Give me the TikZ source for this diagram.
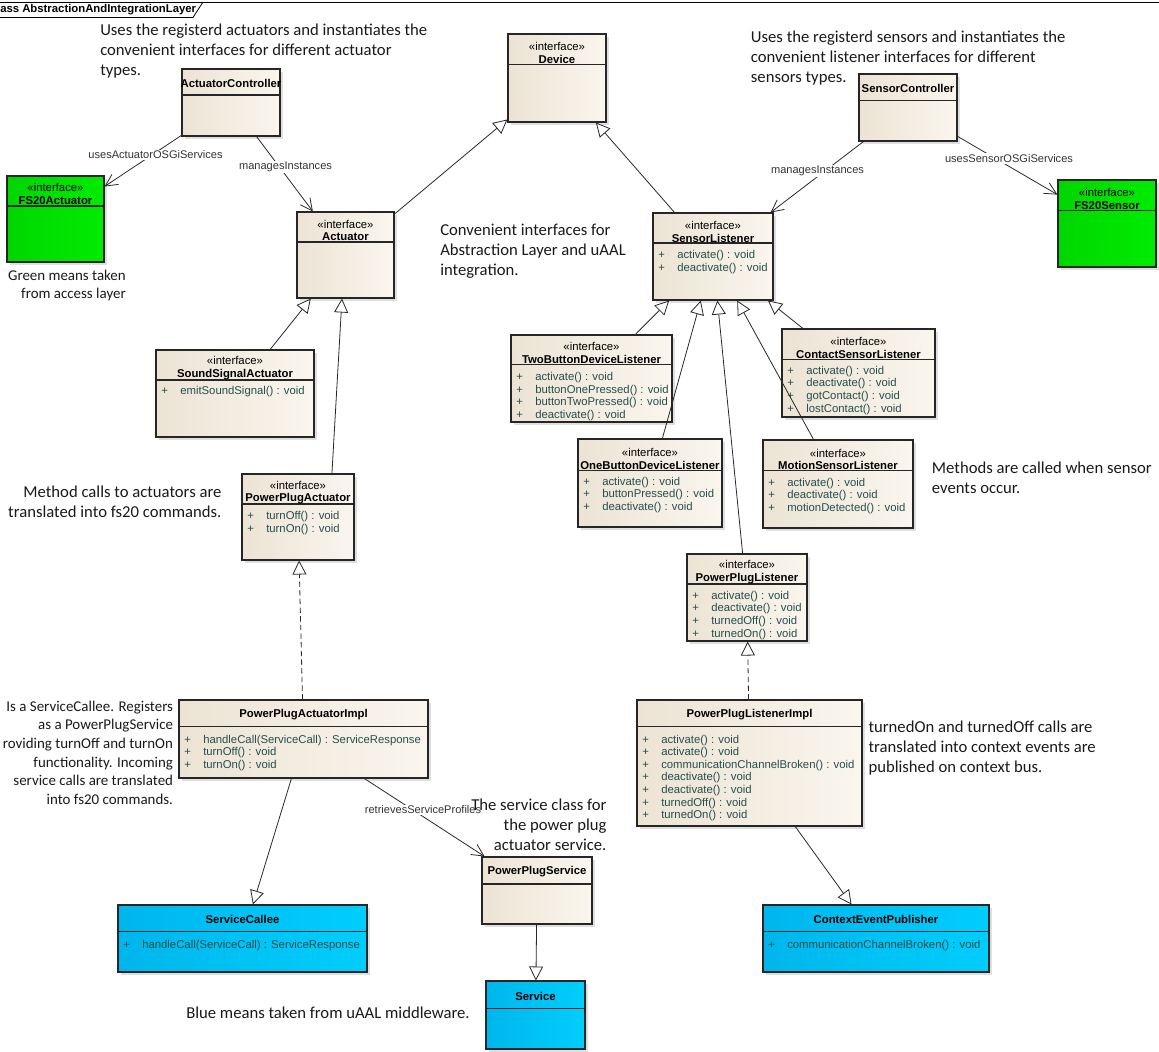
\documentclass[tikz,border=0pt]{standalone}
\usepackage{fontspec}
\setmainfont{Carlito}
\newfontfamily\umlsans{Liberation Sans}
\usetikzlibrary{arrows.meta,calc,fit,shadows}

\definecolor{beigeL}{RGB}{236,227,212}
\definecolor{beigeR}{RGB}{250,246,238}
\definecolor{greenL}{RGB}{0,214,0}
\definecolor{greenR}{RGB}{0,236,0}
\definecolor{blueL}{RGB}{0,182,236}
\definecolor{blueR}{RGB}{0,206,252}
\definecolor{opcol}{RGB}{38,78,78}
\definecolor{edgecol}{RGB}{40,40,40}

\newcommand{\umlfont}{\umlsans\fontsize{8.5}{9.45}\selectfont}
\newcommand{\notefont}{\fontsize{12.5}{15}\selectfont}
\newcommand{\mplus}{\makebox[14.25pt][l]{+}}

\tikzset{
  cls/.style={draw=black!85, line width=0.8pt, inner sep=0pt, left color=beigeL, right color=beigeR,
    drop shadow={shadow xshift=2pt, shadow yshift=-2pt, opacity=0.25}},
  accls/.style={cls, left color=greenL, right color=greenR},
  uaalcls/.style={cls, left color=blueL, right color=blueR},
  hline/.style={draw=black!85, line width=0.8pt},
  hd/.style={font=\umlfont, align=center, inner sep=0pt},
  ops/.style={font=\umlfont, text=opcol, align=left, anchor=west, inner sep=0pt},
  lbl/.style={font=\umlsans\fontsize{8.3}{9}\selectfont, text=black!80, fill=white, inner sep=1pt},
  note/.style={font=\notefont, text=black!90, inner sep=0pt},
  assoc/.style={draw=edgecol, line width=0.6pt, -{Straight Barb[length=9pt, width=9pt]}},
  gen/.style={draw=edgecol, line width=0.6pt, -{Triangle[open, fill=white, length=10.5pt, width=10.5pt]}},
  real/.style={gen, dash pattern=on 4pt off 2.5pt}
}

\begin{document}
\begin{tikzpicture}[x=0.75pt, y=-0.75pt]
\useasboundingbox (0,0) rectangle (1159,1051);
% Frame
\draw[line width=0.6pt] (0,2) -- (1159,2);
\draw[line width=0.6pt] (0,17.5) -- (193,17.5) -- (203,2);
\node[font=\umlsans\bfseries\fontsize{8.5}{10}\selectfont, anchor=west, inner sep=0pt] (frame-t) at (0,10) {ass AbstractionAndIntegrationLayer};

% Class ActuatorController
\node[cls, fit={(182,69) (280,136)}] (actctrl) {};
\draw[hline] (182,95) -- (280,95);
\node[hd] (actctrl-h) at (231,83) {\textbf{ActuatorController}};
% Class FS20Actuator
\node[accls, fit={(7,176) (104,262)}] (fsact) {};
\draw[hline] (7,206) -- (104,206);
\node[hd] (fsact-h) at (55.5,194) {«interface»\\\textbf{FS20Actuator}};
% Class Actuator
\node[cls, fit={(297,212) (394,298)}] (actuator) {};
\draw[hline] (297,242) -- (394,242);
\node[hd] (actuator-h) at (345.5,230.3) {«interface»\\\textbf{Actuator}};
% Class Device
\node[cls, fit={(508,34) (606,122)}] (device) {};
\draw[hline] (508,64.5) -- (606,64.5);
\node[hd] (device-h) at (557,53) {«interface»\\\textbf{Device}};
% Class SensorController
\node[cls, fit={(859,74) (957,141)}] (sensctrl) {};
\draw[hline] (859,100.5) -- (957,100.5);
\node[hd] (sensctrl-h) at (908,88.5) {\textbf{SensorController}};
% Class FS20Sensor
\node[accls, fit={(1058,180) (1156,267)}] (fssens) {};
\draw[hline] (1058,210.5) -- (1156,210.5);
\node[hd] (fssens-h) at (1107,198.7) {«interface»\\\textbf{FS20Sensor}};
% Class SensorListener
\node[cls, fit={(653,213) (773,300)}] (senslist) {};
\draw[hline] (653,243) -- (773,243);
\node[hd] (senslist-h) at (713,232) {«interface»\\\textbf{SensorListener}};
\node[ops] (senslist-o) at (658,262.2) {\mplus activate() : void\\\mplus deactivate() : void};
% Class SoundSignalActuator
\node[cls, fit={(156,350) (314,437)}] (soundsig) {};
\draw[hline] (156,380) -- (314,380);
\node[hd] (soundsig-h) at (235,368.2) {«interface»\\\textbf{SoundSignalActuator}};
\node[ops] (soundsig-o) at (161,391.7) {\mplus emitSoundSignal() : void};
% Class PowerPlugActuator
\node[cls, fit={(242,474) (354,560)}] (ppact) {};
\draw[hline] (242,504) -- (354,504);
\node[hd] (ppact-h) at (298,492.5) {«interface»\\\textbf{PowerPlugActuator}};
\node[ops] (ppact-o) at (247,522.9) {\mplus turnOff() : void\\\mplus turnOn() : void};
% Class TwoButtonDeviceListener
\node[cls, fit={(511,335) (672,422)}] (twobtn) {};
\draw[hline] (511,364.5) -- (672,364.5);
\node[hd] (twobtn-h) at (591.5,352.7) {«interface»\\\textbf{TwoButtonDeviceListener}};
\node[ops] (twobtn-o) at (516,396.5) {\mplus activate() : void\\\mplus buttonOnePressed() : void\\\mplus buttonTwoPressed() : void\\\mplus deactivate() : void};
% Class ContactSensorListener
\node[cls, fit={(782,329) (935,417)}] (contact) {};
\draw[hline] (782,359.5) -- (935,359.5);
\node[hd] (contact-h) at (858.5,348) {«interface»\\\textbf{ContactSensorListener}};
\node[ops] (contact-o) at (787,390.3) {\mplus activate() : void\\\mplus deactivate() : void\\\mplus gotContact() : void\\\mplus lostContact() : void};
% Class OneButtonDeviceListener
\node[cls, fit={(578,439) (722,527)}] (onebtn) {};
\draw[hline] (578,470.5) -- (722,470.5);
\node[hd] (onebtn-h) at (650,459) {«interface»\\\textbf{OneButtonDeviceListener}};
\node[ops] (onebtn-o) at (583,494.8) {\mplus activate() : void\\\mplus buttonPressed() : void\\\mplus deactivate() : void};
% Class MotionSensorListener
\node[cls, fit={(763,440) (913,528)}] (motion) {};
\draw[hline] (763,470.5) -- (913,470.5);
\node[hd] (motion-h) at (838,459.4) {«interface»\\\textbf{MotionSensorListener}};
\node[ops] (motion-o) at (768,495.7) {\mplus activate() : void\\\mplus deactivate() : void\\\mplus motionDetected() : void};
% Class PowerPlugListener
\node[cls, fit={(687,554) (807,641)}] (pplist) {};
\draw[hline] (687,584) -- (807,584);
\node[hd] (pplist-h) at (747,572.2) {«interface»\\\textbf{PowerPlugListener}};
\node[ops] (pplist-o) at (692,615.2) {\mplus activate() : void\\\mplus deactivate() : void\\\mplus turnedOff() : void\\\mplus turnedOn() : void};
% Class PowerPlugActuatorImpl
\node[cls, fit={(179,700) (428,778)}] (ppactimpl) {};
\draw[hline] (179,726.5) -- (428,726.5);
\node[hd] (ppactimpl-h) at (303.5,714.5) {\textbf{PowerPlugActuatorImpl}};
\node[ops] (ppactimpl-o) at (184,753) {\mplus handleCall(ServiceCall) : ServiceResponse\\\mplus turnOff() : void\\\mplus turnOn() : void};
% Class PowerPlugListenerImpl
\node[cls, fit={(637,700) (862,826)}] (pplistimpl) {};
\draw[hline] (637,726.5) -- (862,726.5);
\node[hd] (pplistimpl-h) at (749.5,714.5) {\textbf{PowerPlugListenerImpl}};
\node[ops] (pplistimpl-o) at (642,778) {\mplus activate() : void\\\mplus activate() : void\\\mplus communicationChannelBroken() : void\\\mplus deactivate() : void\\\mplus deactivate() : void\\\mplus turnedOff() : void\\\mplus turnedOn() : void};
% Class PowerPlugService
\node[cls, fit={(482,857) (592,924)}] (ppserv) {};
\draw[hline] (482,884) -- (592,884);
\node[hd] (ppserv-h) at (537,871.5) {\textbf{PowerPlugService}};
% Class ServiceCallee
\node[uaalcls, fit={(118,905) (367,972)}] (callee) {};
\draw[hline] (118,931.5) -- (367,931.5);
\node[hd] (callee-h) at (242.5,919) {\textbf{ServiceCallee}};
\node[ops] (callee-o) at (123,945.7) {\mplus handleCall(ServiceCall) : ServiceResponse};
% Class Service
\node[uaalcls, fit={(486,981) (585,1049)}] (service) {};
\draw[hline] (486,1008.3) -- (585,1008.3);
\node[hd] (service-h) at (535.5,996) {\textbf{Service}};
% Class ContextEventPublisher
\node[uaalcls, fit={(763,905) (989,972)}] (cep) {};
\draw[hline] (763,931.5) -- (989,931.5);
\node[hd] (cep-h) at (876,919) {\textbf{ContextEventPublisher}};
\node[ops] (cep-o) at (768,945.7) {\mplus communicationChannelBroken() : void};

% Associations
\draw[assoc] (actctrl) -- (fsact);
\draw[assoc] (actctrl) -- (actuator);
\draw[assoc] (sensctrl) -- (senslist);
\draw[assoc] (sensctrl) -- (fssens);
\draw[assoc] (ppactimpl) -- (ppserv);
% Generalizations
\draw[gen] (actuator) -- (device);
\draw[gen] (senslist) -- (device);
\draw[gen] (soundsig) -- (actuator);
\draw[gen] ($(ppact.north west)!0.8!(ppact.north east)$) -- ($(actuator.south west)!0.464!(actuator.south east)$);
\draw[gen] (twobtn) -- (senslist);
\draw[gen] (onebtn) -- (senslist);
\draw[gen] (pplist) -- (senslist);
\draw[gen] (motion) -- (senslist);
\draw[gen] (contact) -- (senslist);
\draw[gen] (ppactimpl) -- (callee);
\draw[gen] (pplistimpl) -- (cep);
\draw[gen] (ppserv) -- (service);
% Realizations
\draw[real] (ppactimpl) -- (ppact);
\draw[real] (pplistimpl) -- (pplist);

% Connector labels
\node[lbl] (usesact-l) at (155.5,155) {usesActuatorOSGiServices};
\node[lbl] (mngact-l) at (285.5,167) {managesInstances};
\node[lbl] (mngsens-l) at (817.5,171) {managesInstances};
\node[lbl] (usessens-l) at (1009,158.7) {usesSensorOSGiServices};
\node[lbl] (retr-l) at (423,810) {retrievesServiceProfiles};

% Notes
\node[note, anchor=west, align=left] (actnote) at (100,51.5) {Uses the registerd actuators and instantiates the\\convenient interfaces for different actuator\\types.};
\node[note, anchor=west, align=left] (sensnote) at (750.7,58) {Uses the registerd sensors and instantiates the\\convenient listener interfaces for different\\sensors types.};
\node[note, anchor=east, align=right, font=\fontsize{11.2}{13.75}\selectfont] (greennote) at (126,285.2) {Green means taken\\from access layer};
\node[note, anchor=west, align=left] (convnote) at (440,251.3) {Convenient interfaces for\\Abstraction Layer and uAAL\\integration.};
\node[note, anchor=east, align=right] (methnote) at (221.7,502) {Method calls to actuators are\\translated into fs20 commands.};
\node[note, anchor=west, align=left] (eventnote) at (931.7,477.5) {Methods are called when sensor\\events occur.};
\node[note, anchor=east, align=right, font=\fontsize{11.2}{14}\selectfont] (calleenote) at (173.3,752.7) {Is a ServiceCallee. Registers\\as a PowerPlugService\\roviding turnOff and turnOn\\functionality. Incoming\\service calls are translated\\into fs20 commands.};
\node[note, anchor=west, align=left] (pubnote) at (868.3,748) {turnedOn and turnedOff calls are\\translated into context events are\\published on context bus.};
\node[note, anchor=east, align=right] (servnote) at (606.7,824.5) {The service class for\\the power plug\\actuator service.};
\node[note, anchor=west, align=left] (bluenote) at (186,1013) {Blue means taken from uAAL middleware.};
\end{tikzpicture}
\end{document}
